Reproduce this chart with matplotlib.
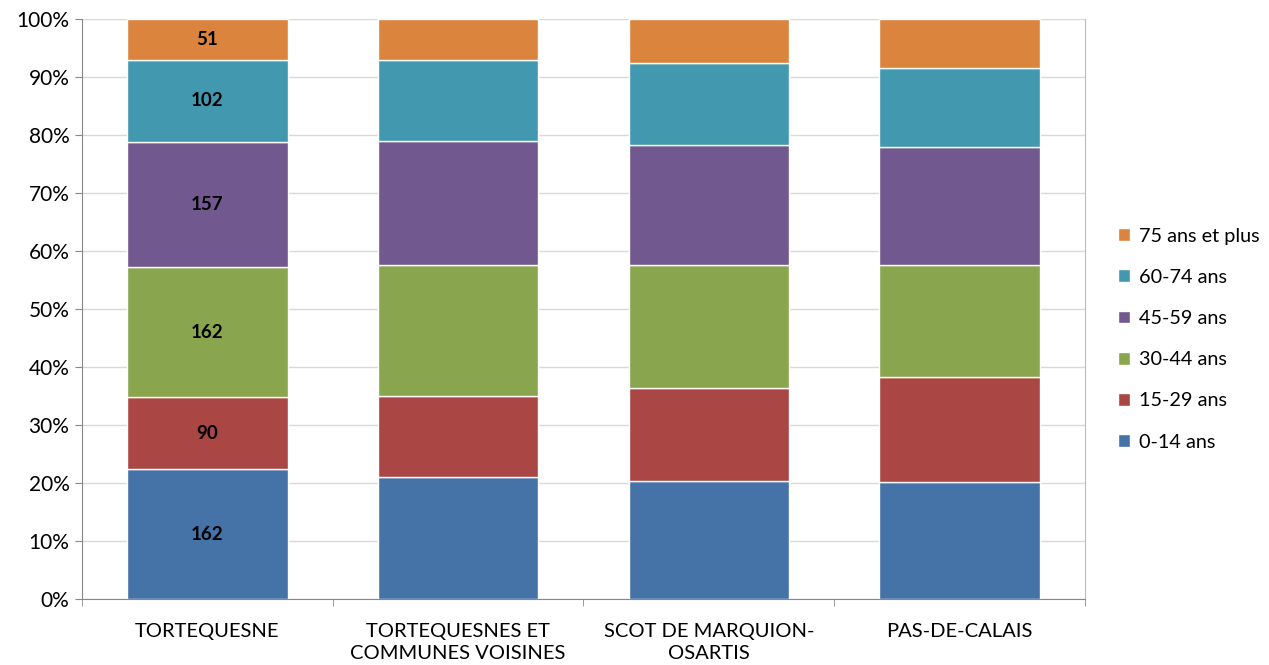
import matplotlib.pyplot as plt
import numpy as np

plt.rcParams['font.family'] = ['Lato', 'DejaVu Sans']

categories = ['TORTEQUESNE', 'TORTEQUESNES ET\nCOMMUNES VOISINES',
              'SCOT DE MARQUION-\nOSARTIS', 'PAS-DE-CALAIS']
age_groups = ['0-14 ans', '15-29 ans', '30-44 ans', '45-59 ans', '60-74 ans', '75 ans et plus']

# Tortequesne counts (labelled on the bars)
tortequesne_counts = [162, 90, 162, 157, 102, 51]
# other areas: shares in %
voisines_pct = [21.0, 14.0, 22.6, 21.4, 13.9, 7.1]
scot_pct = [20.3, 16.1, 21.2, 20.7, 14.1, 7.6]
pdc_pct = [20.2, 18.1, 19.3, 20.3, 13.7, 8.4]

colors = ['#4572A7', '#AA4643', '#89A54E', '#71588F', '#4198AF', '#DB843D']

t_pct = np.array(tortequesne_counts) / sum(tortequesne_counts) * 100
shares = np.array([t_pct, voisines_pct, scot_pct, pdc_pct]).T  # groups x categories

fig = plt.figure(figsize=(12.69, 6.65), dpi=100)
ax = fig.add_axes([0.0646, 0.0992, 0.7904, 0.8722])

x = np.arange(len(categories))
bottom = np.zeros(len(categories))
for i in range(len(age_groups)):
    ax.bar(x, shares[i], 0.64, bottom=bottom, color=colors[i],
           edgecolor='white', linewidth=1, label=age_groups[i], zorder=3)
    ax.text(x[0], bottom[0] + shares[i][0] / 2, str(tortequesne_counts[i]),
            ha='center', va='center', fontsize=13.5, fontweight='bold', zorder=4)
    bottom += shares[i]

ax.set_xlim(-0.5, 3.5)
ax.set_ylim(0, 100)
ax.set_yticks(np.arange(0, 101, 10))
ax.set_yticklabels([f'{v}%' for v in range(0, 101, 10)], fontsize=15)
ax.set_xticks(x)
ax.set_xticklabels(categories, fontsize=14.5, linespacing=1.35)
ax.tick_params(axis='x', length=0, pad=17)
ax.tick_params(axis='y', length=5, color='#888888', pad=4)
ax.set_xticks(np.arange(-0.5, 4, 1), minor=True)
ax.tick_params(axis='x', which='minor', length=5, color='#888888')
ax.grid(axis='y', color='#d9d9d9', linewidth=1, zorder=0)

ax.spines['top'].set_visible(False)
ax.spines['right'].set_color('#bbbbbb')
ax.spines['left'].set_color('#888888')
ax.spines['bottom'].set_color('#888888')

handles, labels = ax.get_legend_handles_labels()
fig.legend(handles[::-1], labels[::-1], loc='center left', bbox_to_anchor=(0.881, 0.49),
           frameon=False, fontsize=14.3, handlelength=0.6, handleheight=0.6,
           handletextpad=0.45, labelspacing=1.22, borderaxespad=0, borderpad=0)

fig.savefig('out.png', dpi=100)
